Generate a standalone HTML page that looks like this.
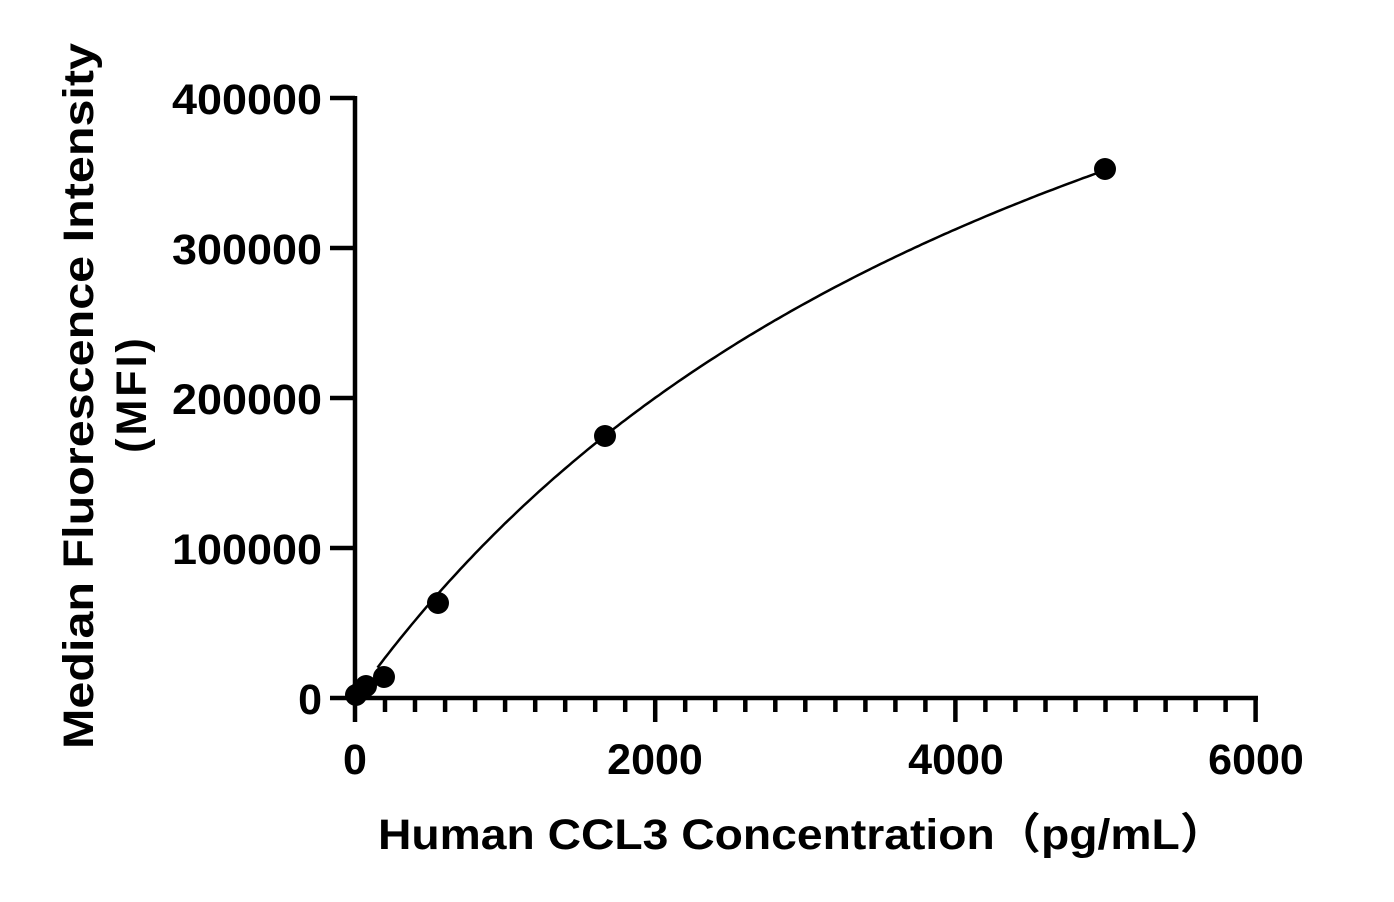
<!DOCTYPE html>
<html><head><meta charset="utf-8"><style>body{margin:0;background:#fff}svg{display:block}</style></head>
<body>
<svg width="1394" height="902" xmlns="http://www.w3.org/2000/svg" font-family="'Liberation Sans','Noto Sans CJK SC',sans-serif" font-weight="bold">
<g stroke="#000" stroke-width="4.5" fill="none">
<line x1="355" y1="96" x2="355" y2="700"/>
<line x1="353" y1="698" x2="1258" y2="698"/>
<line x1="330" y1="98" x2="355" y2="98"/>
<line x1="330" y1="248" x2="355" y2="248"/>
<line x1="330" y1="398" x2="355" y2="398"/>
<line x1="330" y1="548" x2="355" y2="548"/>
<line x1="330" y1="698" x2="355" y2="698"/>
<path d="M355 698V722M655.2 698V722M955.4 698V722M1255.6 698V722
M385 698V712M415 698V712M445.1 698V712M475.1 698V712M505.1 698V712M535.2 698V712M565.2 698V712M595.2 698V712M625.2 698V712
M685.2 698V712M715.2 698V712M745.3 698V712M775.3 698V712M805.3 698V712M835.4 698V712M865.4 698V712M895.4 698V712M925.4 698V712
M985.4 698V712M1015.4 698V712M1045.5 698V712M1075.5 698V712M1105.5 698V712M1135.6 698V712M1165.6 698V712M1195.6 698V712M1225.6 698V712"/>
</g>
<path id="curve" fill="none" stroke="#000" stroke-width="2.5"/>
<g fill="#000">
<circle cx="356" cy="695" r="11"/>
<circle cx="362" cy="690" r="11"/>
<circle cx="366" cy="686" r="11"/>
<circle cx="384" cy="677" r="11"/>
<circle cx="438" cy="603" r="11"/>
<circle cx="605" cy="436" r="11"/>
<circle cx="1105" cy="169" r="11"/>
</g>
<g font-size="43" text-anchor="end">
<text x="322" y="114" textLength="150" lengthAdjust="spacingAndGlyphs">400000</text>
<text x="322" y="264" textLength="150" lengthAdjust="spacingAndGlyphs">300000</text>
<text x="322" y="414" textLength="150" lengthAdjust="spacingAndGlyphs">200000</text>
<text x="322" y="564" textLength="150" lengthAdjust="spacingAndGlyphs">100000</text>
<text x="322" y="714">0</text>
</g>
<g font-size="43" text-anchor="middle">
<text x="355" y="774">0</text>
<text x="655" y="774">2000</text>
<text x="956" y="774">4000</text>
<text x="1256" y="774">6000</text>
</g>
<text x="378" y="849" font-size="43" textLength="848" lengthAdjust="spacingAndGlyphs">Human CCL3 Concentration（pg/mL）</text>
<text transform="translate(93,396) rotate(-90)" font-size="43" text-anchor="middle" textLength="706" lengthAdjust="spacingAndGlyphs">Median Fluorescence Intensity</text>
<text transform="translate(146,394) rotate(-90)" font-size="43" text-anchor="middle" letter-spacing="3">(MFI)</text>
<script>
var d='';
for(var v=150;v<=5000;v+=25){var y=712100*v/(5115+v);var px=355+v*0.15015,py=698-y*0.0015;d+=(d?'L':'M')+px.toFixed(1)+' '+py.toFixed(1);}
document.getElementById('curve').setAttribute('d',d);
</script>
</svg>
</body></html>
